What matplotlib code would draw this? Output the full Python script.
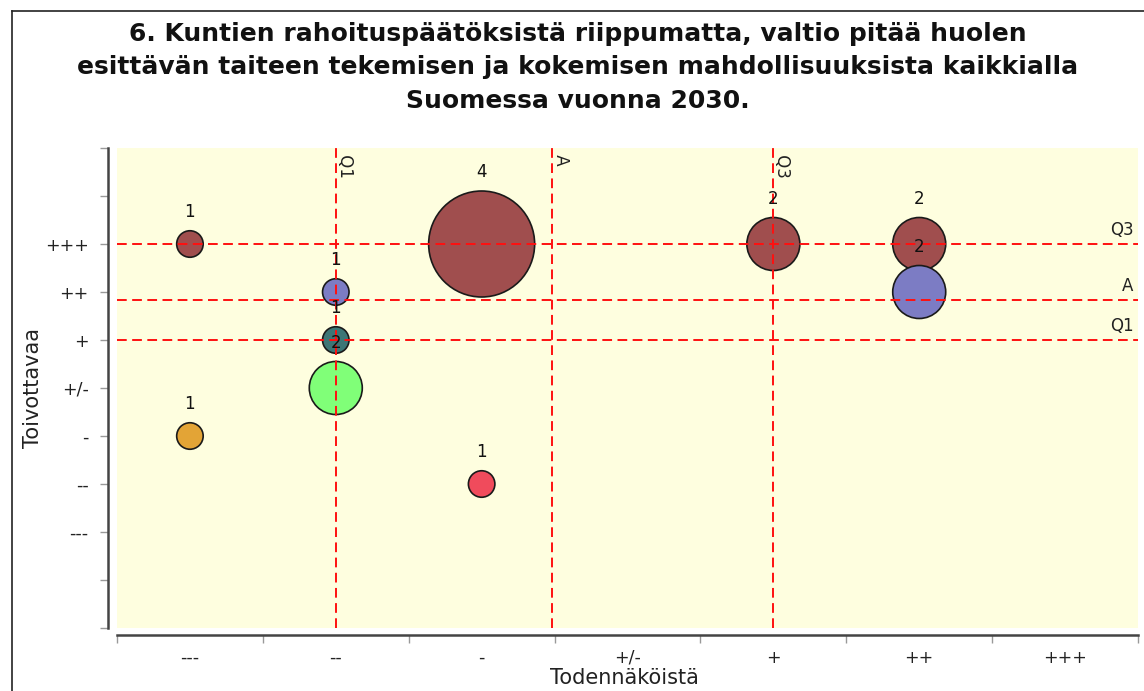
import matplotlib
matplotlib.use("Agg")
import matplotlib.pyplot as plt
from matplotlib.lines import Line2D
from matplotlib.ticker import FixedLocator, FixedFormatter

# ---- data ----
categories = ["---", "--", "-", "+/-", "+", "++", "+++"]
bubble_x = [0, 0, 1, 1, 1, 2, 2, 4, 5, 5]          # index into categories (Todennäköistä)
bubble_y = [6, 2, 5, 4, 3, 6, 1, 6, 6, 5]          # index into categories (Toivottavaa)
bubble_n = [1, 1, 1, 1, 2, 4, 1, 2, 2, 2]
bubble_c = ["#A04E4E", "#E3A436", "#7C7CC4", "#3D7676", "#80FF78",
            "#A04E4E", "#F04B5C", "#A04E4E", "#A04E4E", "#7C7CC4"]
x_stats = {"Q1": 1.0, "A": 2.48, "Q3": 4.0}
y_stats = {"Q3": 6.0, "A": 4.83, "Q1": 4.0}
title = ("6. Kuntien rahoituspäätöksistä riippumatta, valtio pitää huolen\n"
         "esittävän taiteen tekemisen ja kokemisen mahdollisuuksista kaikkialla\n"
         "Suomessa vuonna 2030.")
xlabel = "Todennäköistä"
ylabel = "Toivottavaa"

W, H = 1144, 691
fig = plt.figure(figsize=(W / 100, H / 100), dpi=100)
fig.patch.set_facecolor("white")

left, right, top, bottom = 117, 1138, 148, 628
ax = fig.add_axes([left / W, 1 - bottom / H, (right - left) / W, (bottom - top) / H])
ax.set_facecolor("#FEFEDF")
ax.set_xlim(-0.5, 6.5)
ax.set_ylim(-2, 8)

px = 0.72  # points per pixel at 100 dpi
diam_px = 26.5
sizes = [(diam_px * n * px) ** 2 for n in bubble_n]
ax.scatter(bubble_x, bubble_y, s=sizes, c=bubble_c, edgecolors="#1a1a1a",
           linewidths=1.2, zorder=2)

# reference lines
dash = (0, (5.0, 2.8))
for name, v in x_stats.items():
    ax.axvline(v, color="#FF1010", lw=1.4, linestyle=dash, zorder=3)
    ax.text(v, 7.97, " " + name, rotation=-90, ha="left", va="top",
            fontsize=12, color="#222222", zorder=4)
for name, v in y_stats.items():
    ax.axhline(v, color="#FF1010", lw=1.4, linestyle=dash, zorder=3)
    ax.text(6.47, v + 0.1, name, ha="right", va="bottom",
            fontsize=12, color="#222222", zorder=4)

# bubble labels
for x, y, n in zip(bubble_x, bubble_y, bubble_n):
    off = (diam_px * n / 2 + 19) * px
    ax.annotate(str(n), (x, y), xytext=(0, off), textcoords="offset points",
                ha="center", va="center", fontsize=12, color="#111111", zorder=5)

# axes styling
for s in ["top", "right"]:
    ax.spines[s].set_visible(False)
ax.spines["left"].set_position(("outward", 9 * px))
ax.spines["bottom"].set_position(("outward", 7 * px))
for s in ["left", "bottom"]:
    ax.spines[s].set_color("#444444")
    ax.spines[s].set_linewidth(1.8)

ax.xaxis.set_major_locator(FixedLocator(range(len(categories))))
ax.xaxis.set_major_formatter(FixedFormatter(categories))
ax.xaxis.set_minor_locator(FixedLocator([i - 0.5 for i in range(len(categories) + 1)]))
ax.tick_params(axis="x", which="major", length=0, pad=10, labelsize=12.5, labelcolor="#222222")
ax.tick_params(axis="x", which="minor", length=6, width=1, color="#999999")

yt = list(range(-2, 9))
ylabels = [categories[t] if 0 <= t < len(categories) else "" for t in yt]
ax.yaxis.set_major_locator(FixedLocator(yt))
ax.yaxis.set_major_formatter(FixedFormatter(ylabels))
ax.tick_params(axis="y", which="major", length=6, width=1, color="#999999",
               pad=8, labelsize=12.5, labelcolor="#222222")

fig.text(624 / W, 1 - 678 / H, xlabel, ha="center", va="center", fontsize=15, color="#222222")
fig.text(33 / W, 1 - 388 / H, ylabel, ha="center", va="center", rotation=90,
         fontsize=15, color="#222222")

fig.text(578 / W, 1 - 67 / H, title, ha="center", va="center", fontsize=18,
         fontweight="bold", linespacing=1.5, color="#111111")

# outer frame (left and top edges visible)
fig.add_artist(Line2D([12 / W, 12 / W], [0, 1 - 11 / H], transform=fig.transFigure,
                      color="#222222", lw=1.2))
fig.add_artist(Line2D([12 / W, 1], [1 - 11 / H, 1 - 11 / H], transform=fig.transFigure,
                      color="#222222", lw=1.2))

fig.savefig("out.png", dpi=100, facecolor="white")
